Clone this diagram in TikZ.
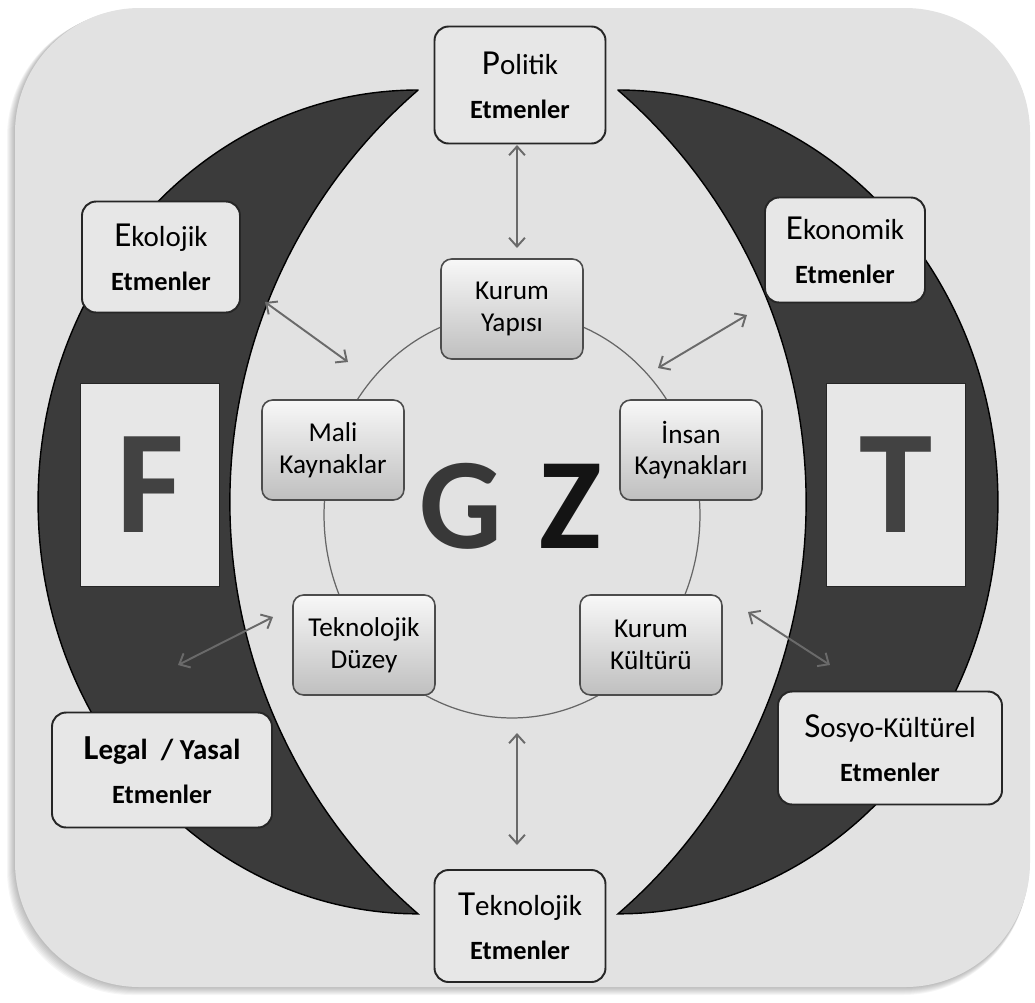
\documentclass[tikz,border=0pt]{standalone}
\usepackage{fontspec}
\setmainfont{Carlito}
\usetikzlibrary{arrows.meta}
\definecolor{zemin}{HTML}{E2E2E2}
\definecolor{hilal}{HTML}{3B3B3B}
\definecolor{kutu}{HTML}{E7E7E7}
\definecolor{okrenk}{HTML}{6A6A6A}
\begin{document}
\begin{tikzpicture}[x=0.02cm,y=-0.02cm]
	\tikzstyle{etmen}=[draw=black!85,fill=kutu,line width=1.1pt,rounded corners=8pt,align=center,inner sep=0pt,font=\fontsize{15}{25}\selectfont]
	\tikzstyle{alan}=[draw=black!70,top color=gray!6,bottom color=gray!50,line width=0.9pt,rounded corners=6pt,align=center,inner sep=0pt,minimum width=2.84cm,minimum height=2cm,font=\fontsize{15.5}{18}\selectfont]
	\tikzstyle{harf}=[draw=black!85,fill=kutu,line width=0.9pt,minimum width=2.78cm,minimum height=4.06cm,inner sep=0pt,font=\fontsize{84}{84}\selectfont\bfseries,text=black!74]
	\tikzstyle{ok}=[draw=okrenk,line width=1.1pt,{Straight Barb[length=5pt,width=9pt]}-{Straight Barb[length=5pt,width=9pt]}]
	\def\Bas#1#2{{\fontsize{20}{25}\selectfont #1}{\fontsize{16.5}{25}\selectfont #2}}
	\def\Ry{8.24cm}
	\useasboundingbox (0,0) rectangle (1035,1002);
	% zemin
	\foreach \i in {1,...,8}
		\fill[black,opacity=0.035,rounded corners=2.5cm] (15-\i,8+0.5*\i) rectangle (1030-0.3*\i,987+\i);
	\fill[zemin,rounded corners=2.5cm] (15,8) rectangle (1030,987);
	% hilaller
	\filldraw[fill=hilal,draw=black,line width=0.8pt] (418,90) arc[start angle=90,end angle=270,x radius=7.6cm,y radius=\Ry] arc[start angle=229.1,end angle=130.9,radius=10.9cm] -- cycle;
	\filldraw[fill=hilal,draw=black,line width=0.8pt] (618,90) arc[start angle=90,end angle=-90,x radius=7.6cm,y radius=\Ry] arc[start angle=-49.1,end angle=49.1,radius=10.9cm] -- cycle;
	\draw[black!60,line width=0.7pt] (512,515) ellipse [x radius=3.76cm,y radius=4.06cm];
	\node[harf] (F) at (150,485) {F};
	\node[harf] (T) at (896,485) {T};
	% oklar
	\coordinate (a1) at (517,145); \coordinate (a2) at (517,248);
	\coordinate (b1) at (265,302); \coordinate (b2) at (348,362);
	\coordinate (c1) at (747,315); \coordinate (c2) at (658,368);
	\coordinate (d1) at (273,617); \coordinate (d2) at (178,665);
	\coordinate (e1) at (748,612); \coordinate (e2) at (830,665);
	\coordinate (f1) at (517,733); \coordinate (f2) at (517,845);
	\foreach \u/\v in {a1/a2,b1/b2,c1/c2,d1/d2,e1/e2,f1/f2}
		\draw[ok] (\u) -- (\v);
	% dis etmenler
	\node[etmen,minimum width=3.42cm,minimum height=2.34cm] (Politik) at (520,85) {\Bas{P}{olitik}\\\textbf{Etmenler}};
	\node[etmen,minimum width=3.16cm,minimum height=2.22cm] (Ekolojik) at (161,257) {\Bas{E}{kolojik}\\\textbf{Etmenler}};
	\node[etmen,minimum width=3.2cm,minimum height=2.1cm] (Ekonomik) at (845,250) {\Bas{E}{konomik}\\\textbf{Etmenler}};
	\node[etmen,minimum width=4.4cm,minimum height=2.3cm] (Legal) at (162,770) {\textbf{\Bas{L}{egal \ / Yasal}}\\\textbf{Etmenler}};
	\node[etmen,minimum width=4.48cm,minimum height=2.26cm] (Sosyo) at (890,748) {\Bas{S}{osyo-Kültürel}\\\textbf{Etmenler}};
	\node[etmen,minimum width=3.42cm,minimum height=2.24cm] (TeknolojikE) at (520,926) {\Bas{T}{eknolojik}\\\textbf{Etmenler}};
	% ic alanlar
	\node[alan] (KurumYapisi) at (512,309) {Kurum\\Yapısı};
	\node[alan] (Mali) at (333,450) {Mali\\Kaynaklar};
	\node[alan] (Insan) at (691,450) {İnsan\\Kaynakları};
	\node[alan] (TeknolojikD) at (364,645) {Teknolojik\\Düzey};
	\node[alan] (KurumKulturu) at (651,645) {Kurum\\Kültürü};
	\node[font=\fontsize{74}{74}\selectfont\bfseries,text=black!78,anchor=base] (G) at (461,548) {G};
	\node[font=\fontsize{74}{74}\selectfont\bfseries,text=black!92,anchor=base] (Z) at (571,548) {Z};
\end{tikzpicture}
\end{document}
